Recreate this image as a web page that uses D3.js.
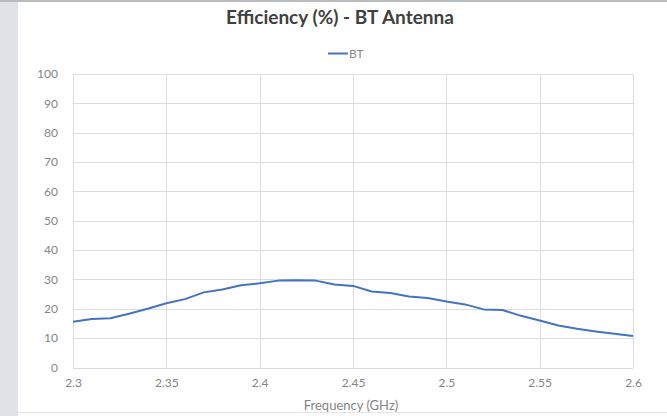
<!DOCTYPE html>
<html><head><meta charset="utf-8">
<script src="https://cdn.jsdelivr.net/npm/d3@7"></script>
<style>
html,body{margin:0;padding:0;background:#fff;}
svg{display:block;}
</style></head>
<body>
<svg id="c" width="667" height="416"></svg>
<script>
const freqs = [2.30,2.31,2.32,2.33,2.34,2.35,2.36,2.37,2.38,2.39,2.40,2.41,2.42,2.43,2.44,2.45,2.46,2.47,2.48,2.49,2.50,2.51,2.52,2.53,2.54,2.55,2.56,2.57,2.58,2.59,2.60];
const btEff = [15.6,16.5,16.8,18.3,20.0,21.9,23.3,25.6,26.6,28.0,28.7,29.6,29.7,29.6,28.3,27.8,25.9,25.4,24.2,23.7,22.5,21.5,19.8,19.6,17.6,16.0,14.3,13.2,12.3,11.5,10.7];
const xTicks = [2.3,2.35,2.4,2.45,2.5,2.55,2.6];
const yTicks = [0,10,20,30,40,50,60,70,80,90,100];
const seriesName = "BT";
const title = "Efficiency (%) - BT Antenna";
const xTitle = "Frequency (GHz)";

const svg = d3.select("#c");
const W=667,H=416;
svg.append("rect").attr("x",0).attr("y",0).attr("width",W).attr("height",H).attr("fill","#fff");
svg.append("rect").attr("x",0).attr("y",0).attr("width",18).attr("height",H).attr("fill","#dfe3e7");
svg.append("rect").attr("x",0).attr("y",0).attr("width",W).attr("height",2).attr("fill","#b9bcbf");
svg.append("rect").attr("x",18).attr("y",412).attr("width",W-18).attr("height",1).attr("fill","#e6e6e6");

const x=d3.scaleLinear().domain([2.3,2.6]).range([73,633]);
const y=d3.scaleLinear().domain([0,100]).range([367.5,74]);

const font="Lato, 'Open Sans', sans-serif";
svg.append("g").selectAll("line").data(yTicks).join("line")
 .attr("x1",73).attr("x2",633).attr("y1",d=>Math.round(y(d))+0.5).attr("y2",d=>Math.round(y(d))+0.5)
 .attr("stroke","#dcdcdc").attr("stroke-width",1);
svg.append("g").selectAll("line").data(xTicks).join("line")
 .attr("y1",74).attr("y2",367.5).attr("x1",d=>Math.round(x(d))+0.5).attr("x2",d=>Math.round(x(d))+0.5)
 .attr("stroke","#dcdcdc").attr("stroke-width",1);

const xa=d3.axisBottom(x).tickValues(xTicks).tickSize(0).tickPadding(11).tickFormat(d=>String(+d.toFixed(2)));
const gx=svg.append("g").attr("transform",`translate(0,367.5)`).call(xa);
gx.select(".domain").remove();
gx.selectAll("text").attr("fill","#858585").attr("font-family",font).attr("font-size",12);
const ya=d3.axisLeft(y).tickValues(yTicks).tickSize(0).tickPadding(15);
const gy=svg.append("g").attr("transform",`translate(73,0)`).call(ya);
gy.select(".domain").remove();
gy.selectAll("text").attr("fill","#858585").attr("font-family",font).attr("font-size",12);

const data=freqs.map((f,i)=>({f,v:btEff[i]}));
svg.append("path").datum(data)
 .attr("d",d3.line().x(d=>x(d.f)).y(d=>y(d.v)))
 .attr("fill","none").attr("stroke","#4472c4").attr("stroke-width",2).attr("stroke-linejoin","round");

svg.append("text").attr("x",340).attr("y",24).attr("text-anchor","middle")
 .attr("font-family",font).attr("font-weight","bold").attr("font-size",19).attr("fill","#404040").text(title);
svg.append("line").attr("x1",328).attr("x2",348).attr("y1",53.5).attr("y2",53.5).attr("stroke","#4472c4").attr("stroke-width",2);
svg.append("text").attr("x",349).attr("y",57.5).attr("font-family",font).attr("font-size",12).attr("fill","#858585").text(seriesName);
svg.append("text").attr("x",351).attr("y",410).attr("text-anchor","middle")
 .attr("font-family",font).attr("font-size",13).attr("fill","#858585").text(xTitle);
</script>
</body></html>
